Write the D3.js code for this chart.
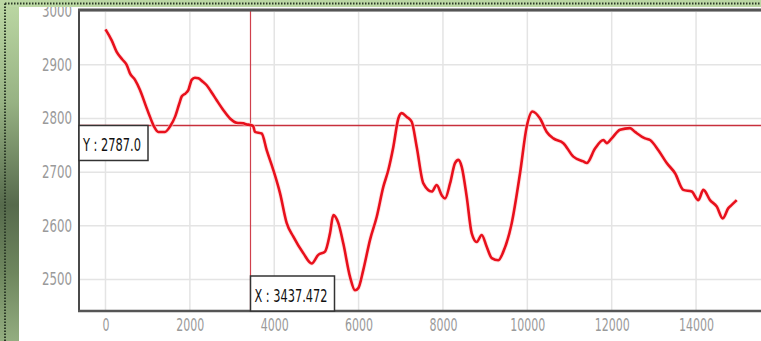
<!DOCTYPE html>
<html><head><meta charset="utf-8">
<script src="https://cdn.jsdelivr.net/npm/d3@7"></script>
<style>
html,body{margin:0;padding:0;background:#fff;overflow:hidden}
svg{display:block}
.tick text{font-family:"DejaVu Sans Condensed","DejaVu Sans",sans-serif;fill:#9a9a9a}
</style></head><body>
<svg id="c" width="761" height="341"></svg>
<script>
const xValues = [0,150,265,400,502,580,700,818,950,1055,1150,1252,1410,1529,1648,1750,1806,1900,1964,2043,2120,2201,2300,2399,2520,2636,2800,2952,3110,3268,3350,3426,3500,3544,3703,3821,3979,4137,4296,4453,4690,4888,5045,5204,5322,5401,5520,5638,5797,5915,5994,6112,6271,6430,6587,6705,6823,6942,7022,7141,7259,7378,7535,7734,7852,7971,8049,8168,8286,8365,8445,8563,8682,8800,8919,9037,9156,9313,9431,9630,9827,9986,10119,10301,10460,10617,10854,11091,11328,11408,11605,11802,11882,12001,12198,12435,12554,12791,12909,13106,13305,13502,13698,13897,14054,14173,14331,14490,14632,14765,14845,14964];
const yValues = [2966,2945,2924,2910,2900,2884,2872,2853,2825,2803,2785,2775,2775,2785,2803,2828,2841,2847,2853,2872,2876,2875,2869,2862,2848,2834,2815,2800,2792,2791,2789,2788,2786,2775,2772,2741,2704,2661,2605,2580,2549,2530,2546,2552,2586,2620,2605,2567,2505,2480,2484,2518,2574,2617,2673,2704,2747,2800,2810,2803,2794,2747,2679,2664,2676,2657,2651,2679,2717,2723,2710,2654,2586,2570,2583,2561,2540,2536,2552,2605,2698,2785,2813,2800,2775,2763,2754,2729,2720,2717,2744,2760,2754,2763,2779,2782,2775,2763,2760,2741,2717,2698,2667,2664,2648,2667,2648,2636,2614,2633,2639,2648];
const xTicks = [0,2000,4000,6000,8000,10000,12000,14000];
const yTicks = [2500,2600,2700,2800,2900,3000];
const cursorX = 3437.472;
const cursorY = 2787.0;
const cursorXLabel = "X : 3437.472";
const cursorYLabel = "Y : 2787.0";

const svg = d3.select("#c");
const L = 79, R = 772, T = 9, B = 311;
const x = d3.scaleLinear().domain([-628, 15800]).range([L, R]);
const y = d3.scaleLinear().domain([2441.4, 3004]).range([B, T]);

svg.append("rect").attr("x",0).attr("y",0).attr("width",761).attr("height",341).attr("fill","#fff");

// grid
const g = svg.append("g");
g.selectAll(".vg").data(xTicks).join("line")
  .attr("x1",d=>x(d)).attr("x2",d=>x(d)).attr("y1",T).attr("y2",B)
  .attr("stroke","#e4e4e4").attr("stroke-width",1.5);
g.selectAll(".hg").data(yTicks).join("line")
  .attr("x1",L).attr("x2",R).attr("y1",d=>y(d)).attr("y2",d=>y(d))
  .attr("stroke","#e4e4e4").attr("stroke-width",1.5);

// axes
const fmt = d3.format("d");
const xa = svg.append("g").attr("transform",`translate(0,${B})`)
  .call(d3.axisBottom(x).tickValues(xTicks).tickSize(0).tickPadding(8).tickFormat(fmt));
xa.select(".domain").remove();
xa.selectAll("text").attr("font-size",17).attr("dy","0.71em")
  .attr("textLength",d=>fmt(d).length*7).attr("lengthAdjust","spacingAndGlyphs");
const ya = svg.append("g").attr("transform",`translate(${L},0)`)
  .call(d3.axisLeft(y).tickValues(yTicks).tickSize(0).tickPadding(7).tickFormat(fmt));
ya.select(".domain").remove();
ya.selectAll("text").attr("font-size",17)
  .attr("textLength",d=>fmt(d).length*7.5).attr("lengthAdjust","spacingAndGlyphs");

// cursor lines
svg.append("line").attr("x1",x(cursorX)).attr("x2",x(cursorX)).attr("y1",T).attr("y2",B)
  .attr("stroke","#d0404c").attr("stroke-width",1.2);
svg.append("line").attr("x1",L).attr("x2",R).attr("y1",y(cursorY)).attr("y2",y(cursorY))
  .attr("stroke","#c8303c").attr("stroke-width",1.6);

// data line
const pts = xValues.map((v,i)=>[v,yValues[i]]);
const line = d3.line().x(d=>x(d[0])).y(d=>y(d[1])).curve(d3.curveMonotoneX);
svg.append("path").datum(pts).attr("d",line).attr("fill","none")
  .attr("stroke","#ffd0d0").attr("stroke-width",4.5).attr("opacity",0.6);
svg.append("path").datum(pts).attr("d",line).attr("fill","none")
  .attr("stroke","#e8101c").attr("stroke-width",2.6).attr("stroke-linejoin","round");

// frame lines
svg.append("line").attr("x1",L).attr("x2",L).attr("y1",T).attr("y2",B+1).attr("stroke","#4a4a4a").attr("stroke-width",2);
svg.append("line").attr("x1",L-1).attr("x2",R).attr("y1",B).attr("y2",B).attr("stroke","#555").attr("stroke-width",2.5);
svg.append("line").attr("x1",L-1).attr("x2",R).attr("y1",T+1).attr("y2",T+1).attr("stroke","#555").attr("stroke-width",3);

// cursor labels
const lf = '"DejaVu Sans Condensed","DejaVu Sans",sans-serif';
const yb = svg.append("g");
yb.append("rect").attr("x",L).attr("y",y(cursorY)).attr("width",69).attr("height",35)
  .attr("fill","#fff").attr("stroke","#333").attr("stroke-width",1.5);
yb.append("text").attr("x",L+4).attr("y",y(cursorY)+26).attr("font-family",lf).attr("font-size",17).attr("fill","#111")
  .attr("textLength",58).attr("lengthAdjust","spacingAndGlyphs").text(cursorYLabel);
const xb = svg.append("g");
xb.append("rect").attr("x",x(cursorX)).attr("y",B-35).attr("width",84).attr("height",35)
  .attr("fill","#fff").attr("stroke","#333").attr("stroke-width",1.5);
xb.append("text").attr("x",x(cursorX)+4).attr("y",B-9).attr("font-family",lf).attr("font-size",17).attr("fill","#111")
  .attr("textLength",73).attr("lengthAdjust","spacingAndGlyphs").text(cursorXLabel);

// green window frame
const defs = svg.append("defs");
const lg = defs.append("linearGradient").attr("id","lg").attr("x1",0).attr("x2",0).attr("y1",0).attr("y2",1);
[[0,"#bcd8a4"],[0.3,"#97b283"],[0.6,"#566a4c"],[0.8,"#6e865e"],[1,"#93ad80"]].forEach(s=>lg.append("stop").attr("offset",s[0]).attr("stop-color",s[1]));
svg.append("rect").attr("x",0).attr("y",0).attr("width",19).attr("height",341).attr("fill","url(#lg)");
svg.append("rect").attr("x",0).attr("y",0).attr("width",761).attr("height",7).attr("fill","#bcd8a4");
svg.append("line").attr("x1",5).attr("x2",761).attr("y1",3.5).attr("y2",3.5).attr("stroke","#2c3a28").attr("stroke-width",2).attr("stroke-dasharray","1.5,1.5");
svg.append("line").attr("x1",5).attr("x2",5).attr("y1",3.5).attr("y2",341).attr("stroke","#2c3a28").attr("stroke-width",2).attr("stroke-dasharray","1.5,1.5");
</script></body></html>
